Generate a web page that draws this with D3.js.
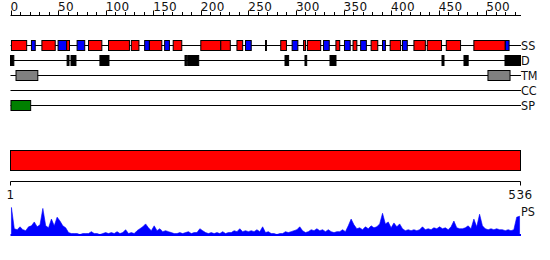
<!DOCTYPE html>
<html><head><meta charset="utf-8">
<script src="https://cdn.jsdelivr.net/npm/d3@7"></script>
<style>body{margin:0;background:#fff}svg{display:block}text{font-family:"DejaVu Sans",sans-serif;fill:#111}</style>
</head><body><svg id="c" width="550" height="260"></svg>
<script>
const seqLen = 536;
const tracks = ["SS", "D", "TM", "CC", "SP"];
const topTicks = d3.range(0, 537, 10);
const topLabels = [0, 50, 100, 150, 200, 250, 300, 350, 400, 450, 500];
const bottomLabels = [1, 536];
// secondary structure: [start, end, type] (H = helix red, E = strand blue)
const ssSegs = [[1,17,"H"],[22,26,"E"],[33,47,"H"],[50,59,"E"],[59,62,"H"],[70,78,"E"],[82,96,"H"],[103,125,"H"],[127,135,"H"],[141,146,"E"],[146,159,"H"],[162,167,"E"],[171,180,"H"],[200,221,"H"],[221,231,"H"],[238,244,"H"],[247,253,"E"],[268,269,"H"],[284,290,"H"],[296,302,"E"],[308,310,"H"],[312,326,"H"],[329,335,"E"],[342,346,"H"],[351,357,"E"],[360,364,"H"],[368,374,"E"],[379,386,"H"],[391,394,"E"],[399,410,"H"],[412,417,"E"],[424,436,"H"],[438,453,"H"],[458,473,"H"],[487,520,"H"],[520,524,"E"]];
const disorder = [[0,3.5],[59.5,61.5],[63.6,68.8],[94,103.5],[183.4,185.2],[186.2,197.8],[288.5,292.3],[309.5,311.3],[335.8,342.1],[453.5,455.6],[476.6,481],[519.7,536]];
const tmSegs = [[5.8,28.7],[501.8,525]];
const ccSegs = [];
const spSegs = [[0.5,21.2]];
const domainSegs = [[1,536]];
const psValues = [29,7,6,9,6,5,9,10,14,9,11,28,10,8,17,10,19,15,10,8,3,2,2,2,1,2,2,2,4,2,2,1,2,3,2,3,2,4,2,3,6,2,3,2,5,7,9,12,8,5,10,5,7,4,5,4,3,2,2,3,2,3,4,2,3,3,7,5,3,2,3,2,3,2,4,2,3,3,5,4,7,4,5,4,5,4,6,4,9,3,4,2,2,1,2,2,4,3,4,5,6,9,5,3,4,6,5,7,5,6,4,6,4,3,4,4,6,4,10,17,11,7,8,6,9,7,10,8,9,12,23,12,14,8,13,9,12,7,5,6,5,6,5,6,9,6,7,6,8,7,9,7,8,6,9,15,8,7,7,8,10,7,17,9,22,10,7,6,7,6,7,6,6,5,6,5,6,19,20];
const psPos = psValues.map((v, i) => 1 + 3 * i);

const svg = d3.select("#c");
const x = d3.scaleLinear().domain([0, seqLen]).range([10.5, 520.5]);
const xb = d3.scaleLinear().domain([1, seqLen]).range([10.5, 520.5]);
const lineEnd = 521;
const rowY = d3.scalePoint().domain(tracks).range([45.5, 105.5]);
const colors = {H: "#ff0000", E: "#0000ff", D: "#000000", TM: "#808080", SP: "#008000", CC: "#ffcc00"};

// top axis
const ta = svg.append("g");
ta.append("line").attr("x1", x(0)).attr("x2", lineEnd).attr("y1", 15.5).attr("y2", 15.5).attr("stroke", "#000");
ta.selectAll(".t").data(topTicks).join("line")
  .attr("x1", d => Math.round(x(d)) + 0.5).attr("x2", d => Math.round(x(d)) + 0.5)
  .attr("y1", d => d % 50 === 0 ? 10.5 : 12).attr("y2", 15.5).attr("stroke", "#000");
ta.selectAll(".l").data(topLabels).join("text")
  .attr("x", d => x(d)).attr("y", 11).attr("font-size", 12).attr("letter-spacing", 0.3).text(d => d);

// track lines and labels
const rows = svg.append("g");
rows.selectAll("line").data(tracks).join("line")
  .attr("x1", x(0)).attr("x2", lineEnd).attr("y1", d => rowY(d)).attr("y2", d => rowY(d)).attr("stroke", "#000");
rows.selectAll("text").data(tracks).join("text")
  .attr("x", 521).attr("y", d => rowY(d) + 4.5)
  .style("font-family", "'DejaVu Sans Condensed','DejaVu Sans',sans-serif").attr("font-size", 12.5).text(d => d);

function boxes(data, track, colorFn) {
  svg.append("g").selectAll("rect").data(data).join("rect")
    .attr("x", d => x(d[0])).attr("width", d => Math.max(0.5, x(d[1]) - x(d[0])))
    .attr("y", rowY(track) - 5).attr("height", 10)
    .attr("fill", colorFn).attr("stroke", "#000").attr("stroke-width", 1);
}
boxes(ssSegs, "SS", d => colors[d[2]]);
boxes(disorder, "D", () => colors.D);
boxes(tmSegs, "TM", () => colors.TM);
boxes(ccSegs, "CC", () => colors.CC);
boxes(spSegs, "SP", () => colors.SP);

// domain bar
svg.append("g").selectAll("rect").data(domainSegs).join("rect")
  .attr("x", d => xb(d[0])).attr("width", d => xb(d[1]) - xb(d[0]))
  .attr("y", 150.5).attr("height", 20).attr("fill", "#ff0000").attr("stroke", "#000");

// bottom axis
const ba = svg.append("g");
ba.append("line").attr("x1", xb(1)).attr("x2", xb(seqLen)).attr("y1", 181.5).attr("y2", 181.5).attr("stroke", "#000");
ba.selectAll("line.t").data(bottomLabels).join("line").attr("class", "t")
  .attr("x1", d => xb(d)).attr("x2", d => xb(d)).attr("y1", 181.5).attr("y2", 185.5).attr("stroke", "#000");
ba.selectAll("text").data(bottomLabels).join("text")
  .attr("x", d => xb(d)).attr("y", 199).attr("text-anchor", "middle").attr("font-size", 12).attr("letter-spacing", 0.5).text(d => d);

// PS profile
const yps = d3.scaleLinear().domain([0, 30]).range([235.5, 206.5]);
const area = d3.area().x((d, i) => x(psPos[i])).y0(yps(0)).y1(d => yps(d));
svg.append("path").datum(psValues).attr("d", area).attr("fill", "#0000ff").attr("stroke", "#0000ff").attr("stroke-width", 0.6);
svg.append("line").attr("x1", x(0)).attr("x2", lineEnd).attr("y1", 235).attr("y2", 235).attr("stroke", "#0000ff").attr("stroke-width", 2);
svg.append("text").attr("x", 521).attr("y", 216)
  .style("font-family", "'DejaVu Sans Condensed','DejaVu Sans',sans-serif").attr("font-size", 12.5).text("PS");
</script></body></html>
